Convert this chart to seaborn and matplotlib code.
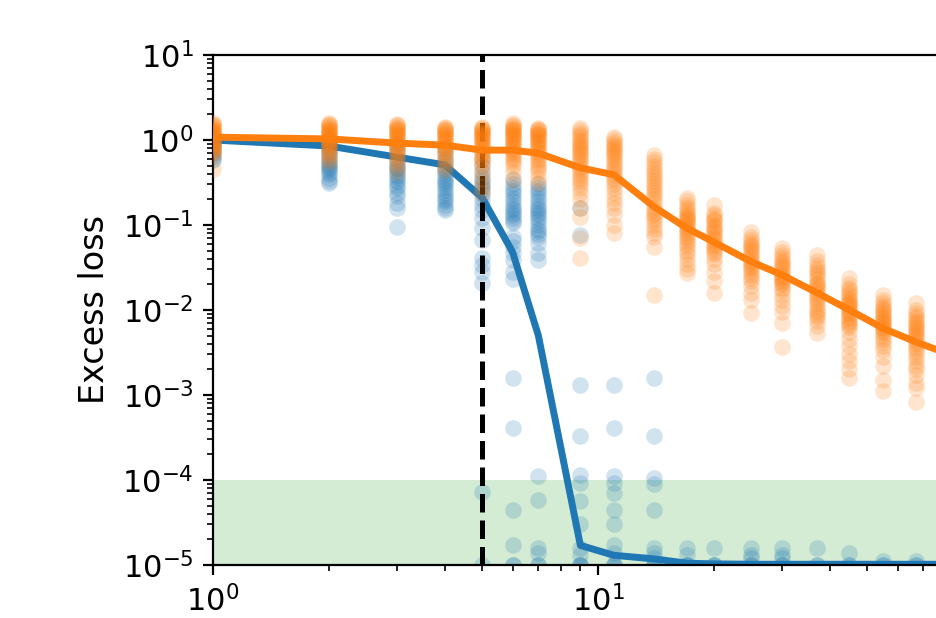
import numpy as np
import pandas as pd
import matplotlib
matplotlib.use("Agg")
import matplotlib.pyplot as plt
import seaborn as sns

# ── Data ─────────────────────────────────────────────────────────────────────
x_steps = [1, 2, 3, 4, 5, 6, 7, 9, 11, 14, 17, 20, 25, 30, 37, 45, 55, 67]
x_line  = x_steps + [82]

blue_median = [1.0, 0.85, 0.63, 0.51, 0.21, 0.048, 0.005, 1.7e-5, 1.3e-5, 1.18e-5,
               1.05e-5, 1.03e-5, 1.02e-5, 1.02e-5, 1.02e-5, 1.02e-5, 1.02e-5,
               1.02e-5, 1.02e-5]
orange_median = [1.08, 1.03, 0.92, 0.87, 0.76, 0.76, 0.70, 0.47, 0.39, 0.163,
                 0.092, 0.063, 0.037, 0.026, 0.016, 0.010, 0.0061, 0.0042, 0.003]

blue_runs = [
    [1.05, 1.0, 0.95, 0.9, 0.85, 0.8, 0.75, 0.7, 0.65, 0.6, 0.58],
    [1.0, 0.95, 0.9, 0.85, 0.8, 0.75, 0.7, 0.65, 0.6, 0.55, 0.52, 0.5, 0.47, 0.45,
     0.42, 0.4, 0.36, 0.33, 0.31],
    [0.9, 0.8, 0.7, 0.6, 0.55, 0.5, 0.47, 0.45, 0.42, 0.39, 0.37, 0.34, 0.32, 0.29,
     0.27, 0.24, 0.22, 0.18, 0.16, 0.095],
    [0.8, 0.7, 0.6, 0.55, 0.5, 0.46, 0.43, 0.4, 0.37, 0.34, 0.32, 0.3, 0.28, 0.26,
     0.24, 0.22, 0.2, 0.19, 0.17, 0.16, 0.15],
    [0.6, 0.5, 0.42, 0.37, 0.33, 0.3, 0.28, 0.26, 0.23, 0.2, 0.17, 0.15, 0.12, 0.092,
     0.067, 0.041, 0.034, 0.028, 0.021, 7.2e-5, 1e-5],
    [0.35, 0.3, 0.27, 0.25, 0.23, 0.21, 0.19, 0.17, 0.16, 0.15, 0.14, 0.13, 0.12, 0.11,
     0.106, 0.072, 0.065, 0.055, 0.047, 0.039, 0.028, 0.023, 1.6e-3, 4.1e-4, 4.4e-5,
     1.7e-5, 1e-5, 1e-5],
    [0.3, 0.27, 0.25, 0.23, 0.21, 0.19, 0.17, 0.16, 0.15, 0.14, 0.13, 0.12, 0.11, 0.1,
     0.09, 0.085, 0.078, 0.072, 0.061, 0.047, 0.039, 1.1e-4, 5.8e-5, 1.6e-5, 1.4e-5,
     1e-5, 1e-5],
    [0.16, 0.076, 1.3e-3, 3.3e-4, 1.15e-4, 9.3e-5, 5.6e-5, 3e-5, 1.6e-5, 1.3e-5,
     1e-5, 1e-5, 1e-5],
    [1.3e-3, 4.1e-4, 1.1e-4, 9.3e-5, 7e-5, 4.4e-5, 3e-5, 1.7e-5, 1.4e-5, 1e-5, 1e-5, 1e-5],
    [1.6e-3, 3.3e-4, 1.05e-4, 9e-5, 4.4e-5, 1.6e-5, 1.4e-5, 1.2e-5, 1e-5, 1e-5, 1e-5],
    [1.6e-5, 1.3e-5, 1e-5, 1e-5, 1e-5],
    [1.6e-5, 1e-5, 1e-5, 1e-5],
    [1.6e-5, 1.3e-5, 1.2e-5, 1e-5, 1e-5],
    [1.6e-5, 1.3e-5, 1.2e-5, 1e-5, 1e-5],
    [1.6e-5, 1e-5, 1e-5],
    [1.4e-5, 1e-5, 1e-5],
    [1.1e-5, 1e-5, 1e-5],
    [1.1e-5, 1e-5, 1e-5],
]

orange_runs = [
    [1.6, 1.55, 1.5, 1.45, 1.4, 1.35, 1.3, 1.27, 1.24, 1.2, 1.17, 1.14, 1.1, 1.07,
     1.04, 1.0, 0.97, 0.94, 0.9, 0.87, 0.84, 0.8, 0.77, 0.74, 0.7, 0.66, 0.45],
    [1.6, 1.55, 1.5, 1.45, 1.4, 1.35, 1.3, 1.27, 1.24, 1.2, 1.17, 1.14, 1.1, 1.07,
     1.04, 1.0, 0.97, 0.94, 0.9, 0.87, 0.84, 0.8, 0.75, 0.7, 0.65, 0.6, 0.55],
    [1.55, 1.5, 1.45, 1.4, 1.35, 1.3, 1.26, 1.22, 1.18, 1.14, 1.1, 1.06, 1.02, 0.98,
     0.94, 0.9, 0.86, 0.82, 0.78, 0.74, 0.7, 0.65, 0.6, 0.55, 0.5, 0.42],
    [1.42, 1.38, 1.34, 1.3, 1.26, 1.22, 1.18, 1.14, 1.1, 1.06, 1.02, 0.98, 0.94, 0.9,
     0.86, 0.82, 0.78, 0.74, 0.7, 0.65, 0.6, 0.55, 0.5, 0.44],
    [1.42, 1.38, 1.34, 1.3, 1.26, 1.22, 1.18, 1.14, 1.1, 1.06, 1.02, 0.98, 0.94, 0.9,
     0.86, 0.82, 0.78, 0.74, 0.7, 0.66, 0.62, 0.58, 0.54, 0.5, 0.42, 0.35, 0.28, 0.24],
    [1.58, 1.5, 1.45, 1.4, 1.35, 1.3, 1.26, 1.22, 1.18, 1.14, 1.1, 1.06, 1.02, 0.98,
     0.94, 0.9, 0.86, 0.82, 0.78, 0.74, 0.7, 0.66, 0.62, 0.58, 0.54, 0.5, 0.42, 0.34],
    [1.38, 1.34, 1.3, 1.26, 1.22, 1.18, 1.14, 1.1, 1.06, 1.02, 0.98, 0.94, 0.9, 0.86,
     0.82, 0.78, 0.74, 0.7, 0.66, 0.62, 0.58, 0.54, 0.5, 0.46, 0.42, 0.36, 0.31],
    [1.38, 1.3, 1.22, 1.15, 1.08, 1.0, 0.95, 0.9, 0.85, 0.8, 0.76, 0.72, 0.68, 0.64,
     0.6, 0.56, 0.52, 0.48, 0.45, 0.42, 0.39, 0.36, 0.33, 0.3, 0.27, 0.24, 0.2, 0.16,
     0.124, 0.07, 0.041],
    [1.08, 1.02, 0.96, 0.9, 0.85, 0.8, 0.76, 0.72, 0.68, 0.64, 0.6, 0.56, 0.52, 0.48,
     0.45, 0.42, 0.39, 0.36, 0.33, 0.3, 0.27, 0.24, 0.21, 0.18, 0.16, 0.13, 0.1, 0.08],
    [0.67, 0.6, 0.55, 0.5, 0.46, 0.42, 0.39, 0.36, 0.33, 0.3, 0.28, 0.26, 0.24, 0.22,
     0.2, 0.18, 0.165, 0.15, 0.14, 0.13, 0.12, 0.11, 0.1, 0.09, 0.08, 0.072, 0.055,
     0.015],
    [0.21, 0.19, 0.17, 0.16, 0.15, 0.14, 0.13, 0.125, 0.12, 0.115, 0.11, 0.105, 0.1,
     0.095, 0.09, 0.085, 0.08, 0.075, 0.07, 0.065, 0.06, 0.055, 0.05, 0.045, 0.04,
     0.035, 0.03, 0.027],
    [0.17, 0.14, 0.13, 0.12, 0.115, 0.11, 0.1, 0.095, 0.09, 0.085, 0.08, 0.075, 0.07,
     0.066, 0.062, 0.058, 0.055, 0.052, 0.048, 0.045, 0.04, 0.035, 0.028, 0.022, 0.016],
    [0.083, 0.072, 0.066, 0.062, 0.058, 0.055, 0.052, 0.049, 0.046, 0.043, 0.04, 0.038,
     0.036, 0.034, 0.032, 0.03, 0.028, 0.026, 0.024, 0.022, 0.019, 0.016, 0.013, 0.0092],
    [0.054, 0.048, 0.044, 0.041, 0.038, 0.036, 0.034, 0.032, 0.03, 0.028, 0.026, 0.025,
     0.024, 0.023, 0.022, 0.021, 0.02, 0.018, 0.017, 0.015, 0.013, 0.011, 0.0095,
     0.0071, 0.0037],
    [0.044, 0.038, 0.034, 0.031, 0.029, 0.027, 0.025, 0.023, 0.021, 0.02, 0.019, 0.018,
     0.017, 0.016, 0.015, 0.014, 0.013, 0.012, 0.011, 0.01, 0.0095, 0.0088, 0.0083,
     0.0075, 0.0065, 0.0054],
    [0.024, 0.02, 0.018, 0.017, 0.016, 0.015, 0.014, 0.013, 0.0125, 0.012, 0.0115,
     0.011, 0.0105, 0.01, 0.0095, 0.009, 0.0085, 0.008, 0.0075, 0.007, 0.0066, 0.0063,
     0.0055, 0.0045, 0.0038, 0.003, 0.0025, 0.002, 0.0016],
    [0.015, 0.013, 0.012, 0.011, 0.0105, 0.01, 0.0095, 0.009, 0.0085, 0.008, 0.0077,
     0.0074, 0.0071, 0.0068, 0.0065, 0.0062, 0.006, 0.0057, 0.0054, 0.005, 0.0046,
     0.0042, 0.0038, 0.0034, 0.0028, 0.0022, 0.0015, 0.0011],
    [0.012, 0.01, 0.0092, 0.0086, 0.008, 0.0075, 0.0071, 0.0067, 0.0063, 0.006, 0.0057,
     0.0054, 0.0051, 0.0048, 0.0045, 0.0042, 0.004, 0.0037, 0.0034, 0.0031, 0.0028,
     0.0025, 0.0022, 0.002, 0.0017, 0.0014, 0.0012, 0.00083],
]

THRESHOLD_X = 5
BAND = (1e-5, 1e-4)


def to_long(runs):
    rows = [(x, v) for x, vals in zip(x_steps, runs) for v in vals]
    return pd.DataFrame(rows, columns=["x", "loss"])


blue_df   = to_long(blue_runs)
orange_df = to_long(orange_runs)

plt.rcParams["xtick.labelsize"] = 11
plt.rcParams["ytick.labelsize"] = 11

fig = plt.figure(figsize=(937 / 200, 618 / 200), dpi=200)
# axes runs past the right edge of the figure, like the reference crop
ax = fig.add_axes([213 / 937, 53 / 618, 770 / 937, 510 / 618])

ax.axhspan(*BAND, color="tab:green", alpha=0.2, lw=0, zorder=0)

sns.scatterplot(data=blue_df, x="x", y="loss", ax=ax, color="tab:blue",
                alpha=0.2, s=36, linewidth=0, zorder=1, legend=False)
sns.lineplot(x=x_line, y=blue_median, ax=ax, color="tab:blue", lw=2.5, zorder=2)
ax.axvline(THRESHOLD_X, color="black", ls="--", lw=1.8, zorder=2.5)
sns.scatterplot(data=orange_df, x="x", y="loss", ax=ax, color="tab:orange",
                alpha=0.2, s=36, linewidth=0, zorder=3, legend=False)
sns.lineplot(x=x_line, y=orange_median, ax=ax, color="tab:orange", lw=2.5, zorder=4)

ax.set_xscale("log")
ax.set_yscale("log")
ax.set_xlim(1, 100)
ax.set_ylim(1e-5, 10)
ax.set_xlabel("")
ax.set_ylabel("Excess loss", fontsize=12)

fig.savefig("out.png", dpi=200)
